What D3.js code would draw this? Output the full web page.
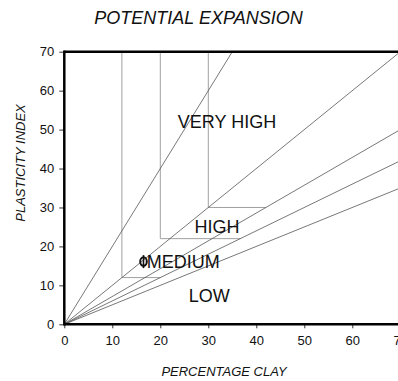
<!DOCTYPE html>
<html>
<head>
<meta charset="utf-8">
<script src="https://cdn.jsdelivr.net/npm/d3@7"></script>
<style>
  html, body { margin: 0; padding: 0; background: #fff; }
  svg { display: block; font-family: "Liberation Sans", Arial, Helvetica, sans-serif; }
</style>
</head>
<body>
<svg id="chart" width="398" height="381"></svg>
<script>
// ---- data ----
const xTicks = [0, 10, 20, 30, 40, 50, 60, 70];
const yTicks = [0, 10, 20, 30, 40, 50, 60, 70];
// boundary rays from the origin (slope of PI vs clay %)
const raySlopes = [2, 1, 5 / 7, 0.6, 0.5];
// grey boundary segments: [x1, y1, x2, y2] in data units
const boundaryX1 = [12, 12, 20, 20, 30, 30];
const boundaryY1 = [12, 12, 22, 22, 30, 30];
const boundaryX2 = [12, 20, 20, 36.7, 30, 42];
const boundaryY2 = [70, 12, 70, 22, 70, 30];
// zone labels
const zoneNames = ["VERY HIGH", "HIGH", "MEDIUM", "LOW"];
const zoneX = [33.9, 31.8, 24.8, 30.2];
const zoneY = [50.4, 23.4, 14.5, 5.7];
// sample point
const sampleX = [16.5];
const sampleY = [16.1];

const svg = d3.select("#chart");
const x = d3.scaleLinear().domain([0, 70]).range([64.3, 400.3]);
const y = d3.scaleLinear().domain([0, 70]).range([324.3, 51.7]);

svg.append("defs").append("clipPath").attr("id", "plotclip")
  .append("rect").attr("x", x(0)).attr("y", y(70)).attr("width", x(70) - x(0)).attr("height", y(0) - y(70));

const plot = svg.append("g").attr("clip-path", "url(#plotclip)");

// grey boundary segments
plot.selectAll("line.bound").data(boundaryX1.map((d, i) => i)).enter().append("line")
  .attr("class", "bound")
  .attr("x1", i => x(boundaryX1[i])).attr("y1", i => y(boundaryY1[i]))
  .attr("x2", i => x(boundaryX2[i])).attr("y2", i => y(boundaryY2[i]))
  .attr("stroke", "#a0a0a0").attr("stroke-width", 1);

// rays
plot.selectAll("line.ray").data(raySlopes).enter().append("line")
  .attr("class", "ray")
  .attr("x1", x(0)).attr("y1", y(0))
  .attr("x2", s => x(Math.min(70, 70 / s))).attr("y2", s => y(Math.min(70, 70 / s) * s))
  .attr("stroke", "#555").attr("stroke-width", 0.8);

// zone labels
svg.selectAll("text.zone").data(zoneNames).enter().append("text")
  .attr("class", "zone")
  .attr("x", (d, i) => x(zoneX[i])).attr("y", (d, i) => y(zoneY[i]))
  .attr("text-anchor", "middle").attr("font-size", 18).attr("fill", "#111")
  .text(d => d);

// sample marker
const mk = svg.selectAll("g.sample").data(sampleX.map((d, i) => i)).enter().append("g").attr("class", "sample");
mk.append("ellipse").attr("cx", i => x(sampleX[i])).attr("cy", i => y(sampleY[i]))
  .attr("rx", 3.3).attr("ry", 4.3).attr("fill", "none").attr("stroke", "#111").attr("stroke-width", 2);
mk.append("line").attr("x1", i => x(sampleX[i])).attr("x2", i => x(sampleX[i]))
  .attr("y1", i => y(sampleY[i]) - 6.5).attr("y2", i => y(sampleY[i]) + 6.5)
  .attr("stroke", "#111").attr("stroke-width", 1.6);

// axes
const yAxis = d3.axisLeft(y).tickValues(yTicks).tickSize(5).tickPadding(5).tickSizeOuter(0);
const xAxis = d3.axisBottom(x).tickValues(xTicks).tickSize(4).tickPadding(7).tickSizeOuter(0);
const ga = svg.append("g").attr("transform", `translate(${x(0)},0)`).call(yAxis);
const gb = svg.append("g").attr("transform", `translate(0,${y(0)})`).call(xAxis);
[ga, gb].forEach(g => {
  g.select(".domain").remove();
  g.selectAll(".tick line").attr("stroke", "#333").attr("stroke-width", 1);
  g.selectAll(".tick text").attr("font-size", 13).attr("fill", "#111")
    .attr("font-family", "\"Liberation Sans\", Arial, sans-serif");
});

// frame
const frame = svg.append("g").attr("stroke", "#000").attr("stroke-width", 2.5).attr("fill", "none");
frame.append("line").attr("x1", x(0)).attr("x2", x(0)).attr("y1", y(70) - 1.2).attr("y2", y(0) + 1.2);
frame.append("line").attr("x1", x(0)).attr("x2", x(70)).attr("y1", y(0)).attr("y2", y(0));
frame.append("line").attr("x1", x(0)).attr("x2", x(70)).attr("y1", y(70)).attr("y2", y(70));
frame.append("line").attr("x1", x(70)).attr("x2", x(70)).attr("y1", y(70)).attr("y2", y(0));

// titles
svg.append("text").attr("x", 198.5).attr("y", 24).attr("text-anchor", "middle")
  .attr("font-size", 18).attr("font-style", "italic").attr("fill", "#111").text("POTENTIAL EXPANSION");
svg.append("text").attr("x", 224).attr("y", 375.5).attr("text-anchor", "middle")
  .attr("font-size", 13).attr("font-style", "italic").attr("fill", "#111").text("PERCENTAGE CLAY");
svg.append("text").attr("transform", "translate(25,163) rotate(-90)").attr("text-anchor", "middle")
  .attr("font-size", 13).attr("font-style", "italic").attr("fill", "#111").text("PLASTICITY INDEX");
</script>
</body>
</html>
